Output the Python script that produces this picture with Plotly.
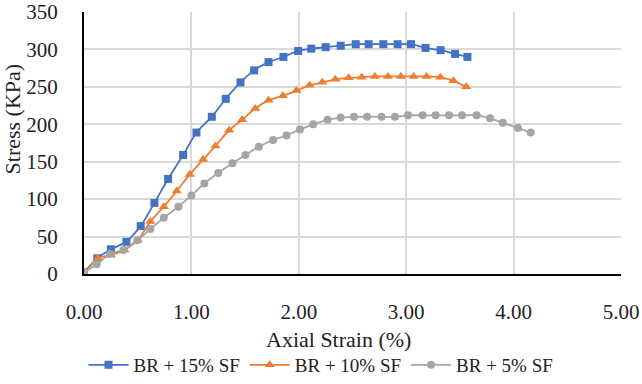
import plotly.graph_objects as go

# BR + 15% SF
strain_15 = [0.0, 0.124, 0.25, 0.395, 0.528, 0.656, 0.783, 0.923, 1.047, 1.19, 1.32, 1.457, 1.584, 1.718, 1.857,
             1.994, 2.116, 2.25, 2.39, 2.53, 2.65, 2.787, 2.92, 3.045, 3.18, 3.32, 3.455, 3.57]
stress_15 = [2, 21, 33, 43, 64, 95, 127, 159, 189, 210, 234, 256, 272, 283, 290,
             298, 301, 303, 305, 307, 307, 307, 307, 307, 302, 299, 294, 290]

# BR + 10% SF
strain_10 = [0.0, 0.127, 0.25, 0.376, 0.50, 0.618, 0.743, 0.864, 0.985, 1.109, 1.224, 1.351, 1.472, 1.594, 1.718,
             1.852, 1.979, 2.10, 2.218, 2.339, 2.464, 2.585, 2.709, 2.83, 2.95, 3.07, 3.19, 3.318, 3.44, 3.56]
stress_10 = [0, 21, 25, 32, 45, 70, 90, 111, 133, 153, 171, 192, 206, 221, 232,
             238, 245, 252, 256, 260, 262, 263, 264, 264, 264, 264, 264, 263, 258, 250]

# BR + 5% SF
strain_5 = [0.0, 0.118, 0.242, 0.366, 0.497, 0.618, 0.743, 0.879, 1.0, 1.121, 1.249, 1.382, 1.503, 1.628, 1.761,
            1.885, 2.01, 2.134, 2.268, 2.389, 2.513, 2.635, 2.771, 2.895, 3.017, 3.153, 3.274, 3.399, 3.52, 3.656,
            3.78, 3.90, 4.04, 4.16]
stress_5 = [2, 13, 27, 32, 45, 60, 75, 90, 105, 121, 135, 148, 159, 170, 179,
            185, 193, 200, 206, 209, 210, 210, 210, 210, 212, 212, 212, 212, 212, 212,
            208, 202, 195, 189]

x_ticks = [0, 1, 2, 3, 4, 5]
x_tick_labels = ["0.00", "1.00", "2.00", "3.00", "4.00", "5.00"]
y_ticks = [0, 50, 100, 150, 200, 250, 300, 350]
x_title = "Axial Strain (%)"
y_title = "Stress (KPa)"

FONT = "Liberation Serif"
TXT = "#222222"

fig = go.Figure()
fig.add_trace(go.Scatter(x=strain_15, y=stress_15, name="BR + 15% SF", mode="lines+markers",
                         line=dict(color="#4472C4", width=1.8, shape="spline", smoothing=0.6),
                         marker=dict(symbol="square", size=8, color="#4472C4")))
fig.add_trace(go.Scatter(x=strain_10, y=stress_10, name="BR + 10% SF", mode="lines+markers",
                         line=dict(color="#ED7D31", width=1.8, shape="spline", smoothing=0.6),
                         marker=dict(symbol="triangle-up", size=9, color="#ED7D31")))
fig.add_trace(go.Scatter(x=strain_5, y=stress_5, name="BR + 5% SF", mode="lines+markers",
                         line=dict(color="#A5A5A5", width=1.8, shape="spline", smoothing=0.6),
                         marker=dict(symbol="circle", size=8, color="#A5A5A5")))

fig.update_layout(
    width=642, height=384,
    margin=dict(l=84, r=21, t=12, b=110, autoexpand=False),
    paper_bgcolor="white", plot_bgcolor="white",
    font=dict(family=FONT, size=21, color=TXT),
    showlegend=True,
    legend=dict(orientation="h", xref="container", x=0.5, xanchor="center",
                yref="container", y=0.0, yanchor="bottom",
                font=dict(size=19), itemwidth=40, tracegroupgap=0),
    annotations=[
        dict(text=x_title, xref="paper", yref="paper", x=0.473, y=-0.25,
             xanchor="center", yanchor="middle", showarrow=False, font=dict(size=22, color=TXT)),
        dict(text=y_title, xref="paper", yref="paper", x=-0.134, y=0.59, textangle=-90,
             xanchor="center", yanchor="middle", showarrow=False, font=dict(size=22, color=TXT)),
    ],
)
fig.update_xaxes(range=[0, 5], tickvals=x_ticks, ticktext=x_tick_labels, automargin=False,
                 showgrid=True, gridcolor="#D9D9D9", gridwidth=1.5,
                 showline=True, linecolor="black", linewidth=2,
                 zeroline=False, ticks="", ticklabelstandoff=18, ticklabeloverflow="allow",
                 tickfont=dict(size=21))
fig.update_yaxes(range=[0, 350], tickvals=y_ticks, automargin=False,
                 showgrid=True, gridcolor="#D9D9D9", gridwidth=1.5,
                 showline=True, linecolor="black", linewidth=2,
                 zeroline=False, ticks="", ticklabelstandoff=20, ticklabeloverflow="allow",
                 tickfont=dict(size=21))

fig.write_html("out.html", config={"displayModeBar": False},
               post_script="document.body.style.margin='0';")
